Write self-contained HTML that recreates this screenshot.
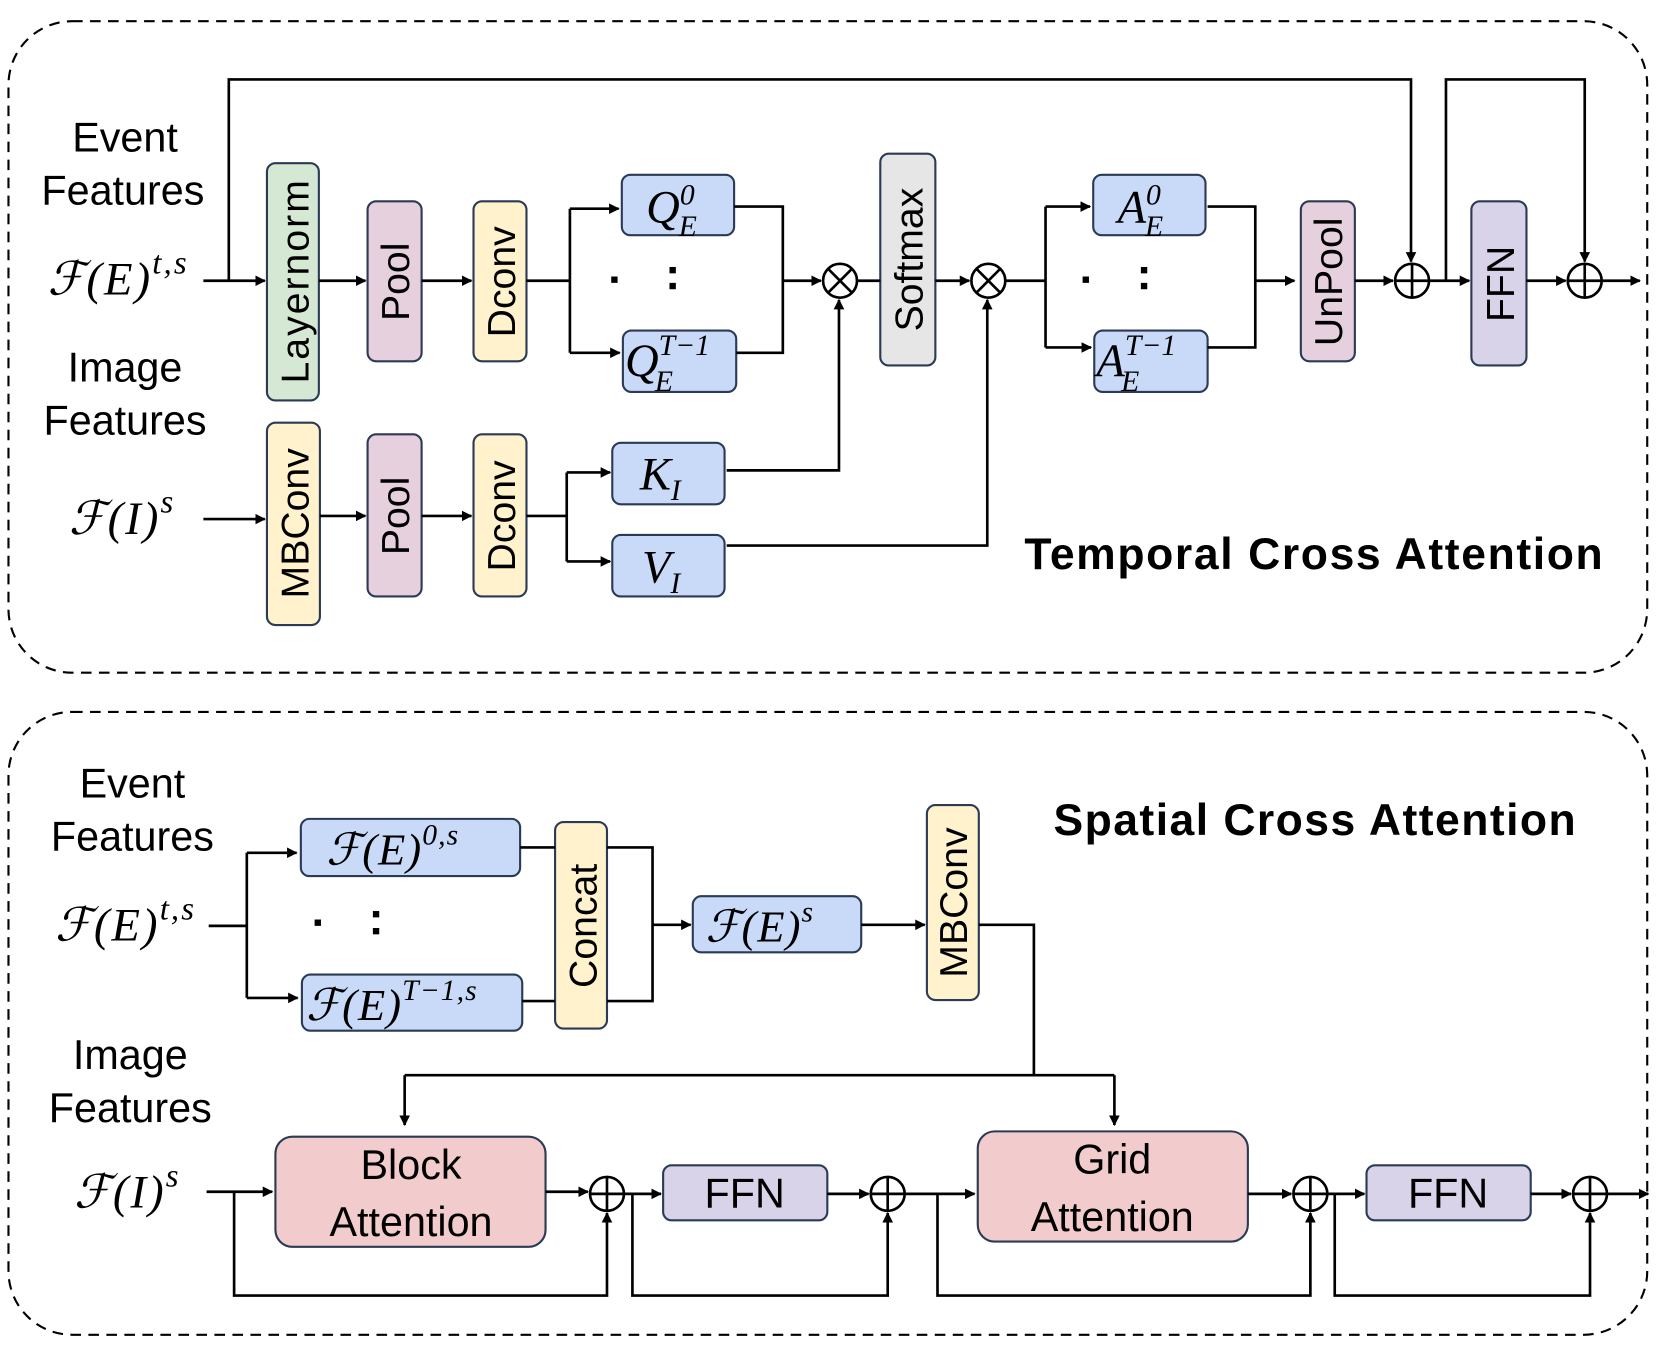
<!DOCTYPE html>
<html><head><meta charset="utf-8"><style>
html,body{margin:0;padding:0;background:#fff;}
svg{display:block;}
.s{font-family:"Liberation Sans",sans-serif;fill:#000;}
.m{font-family:"Liberation Serif","DejaVu Serif",serif;font-style:italic;fill:#000;}
.b{stroke:#2b3a55;stroke-width:2;}
</style></head><body>
<svg width="1661" height="1351" viewBox="0 0 1568 1275.3" xmlns="http://www.w3.org/2000/svg">
<defs><marker id="a" markerWidth="10" markerHeight="10" refX="9" refY="5" orient="auto" markerUnits="userSpaceOnUse"><path d="M0,0 L10,5 L0,10 z" fill="#000"/></marker></defs>
<g fill="none" stroke="#000" stroke-width="2" stroke-dasharray="10,7">
<rect x="8" y="20" width="1547" height="615" rx="60"/>
<rect x="8" y="672" width="1547" height="588" rx="60"/>
</g>
<!-- TOP -->
<g class="s" font-size="39" text-anchor="middle">
<text x="118" y="143">Event</text><text x="116" y="193">Features</text>
<text x="118" y="360">Image</text><text x="118" y="410">Features</text>
</g>
<text class="m" x="45" y="278" font-size="44" letter-spacing="2">ℱ(E)<tspan dy="-20" font-size="31">t,s</tspan></text>
<text class="m" x="65" y="504" font-size="44" letter-spacing="2">ℱ(I)<tspan dy="-20" font-size="31">s</tspan></text>
<g class="b">
<rect x="252" y="154" width="49" height="224" rx="8" fill="#d5e8d4"/>
<rect x="347" y="190" width="51" height="151" rx="8" fill="#e6d0de"/>
<rect x="447" y="190" width="50" height="151" rx="8" fill="#fff2cc"/>
<rect x="252" y="399" width="50" height="191" rx="8" fill="#fff2cc"/>
<rect x="347" y="410" width="51" height="153" rx="8" fill="#e6d0de"/>
<rect x="447" y="410" width="50" height="153" rx="8" fill="#fff2cc"/>
<rect x="587" y="165" width="106" height="57" rx="8" fill="#c9daf8"/>
<rect x="588" y="312" width="107" height="58" rx="8" fill="#c9daf8"/>
<rect x="578" y="418" width="106" height="58" rx="8" fill="#c9daf8"/>
<rect x="578" y="505" width="106" height="58" rx="8" fill="#c9daf8"/>
<rect x="831" y="145" width="52" height="200" rx="8" fill="#e6e6e6"/>
<rect x="1032" y="165" width="106" height="57" rx="8" fill="#c9daf8"/>
<rect x="1033" y="312" width="107" height="58" rx="8" fill="#c9daf8"/>
<rect x="1228" y="190" width="51" height="151" rx="8" fill="#e6d0de"/>
<rect x="1389" y="190" width="52" height="155" rx="8" fill="#d9d3ea"/>
</g>
<g class="s" font-size="37" text-anchor="middle">
<text transform="translate(291,266) rotate(-90)" textLength="192">Layernorm</text>
<text transform="translate(386,266) rotate(-90)">Pool</text>
<text transform="translate(486,266) rotate(-90)">Dconv</text>
<text transform="translate(291,494) rotate(-90)">MBConv</text>
<text transform="translate(386,487) rotate(-90)">Pool</text>
<text transform="translate(486,487) rotate(-90)">Dconv</text>
<text transform="translate(871,245) rotate(-90)">Softmax</text>
<text transform="translate(1267,266) rotate(-90)">UnPool</text>
<text transform="translate(1429,268) rotate(-90)">FFN</text>
</g>
<g class="m" font-size="44">
<text x="610" y="210">Q<tspan font-size="28" dy="-17">0</tspan><tspan font-size="28" dx="-15" dy="30">E</tspan></text>
<text x="590" y="355">Q<tspan font-size="28" dy="-20">T−1</tspan><tspan font-size="28" dx="-52" dy="34">E</tspan></text>
<text x="604" y="462">K<tspan font-size="28" dy="10">I</tspan></text>
<text x="606" y="550">V<tspan font-size="28" dy="10">I</tspan></text>
<text x="1055" y="210">A<tspan font-size="28" dy="-17">0</tspan><tspan font-size="28" dx="-15" dy="30">E</tspan></text>
<text x="1035" y="355">A<tspan font-size="28" dy="-20">T−1</tspan><tspan font-size="28" dx="-52" dy="34">E</tspan></text>
</g>
<g fill="#000"><rect x="577" y="261" width="6" height="6"/><rect x="632" y="252" width="6" height="6"/><rect x="632" y="267" width="6" height="6"/>
<rect x="1022" y="261" width="6" height="6"/><rect x="1077" y="252" width="6" height="6"/><rect x="1077" y="267" width="6" height="6"/></g>
<text class="s" x="1240" y="537" font-size="42" font-weight="bold" text-anchor="middle" textLength="546">Temporal Cross Attention</text>
<g fill="none" stroke="#000" stroke-width="2.5">
<path d="M192,265 H250" marker-end="url(#a)"/>
<path d="M216,265 V75 H1332 V247" marker-end="url(#a)"/>
<path d="M1365,265 V75 H1496 V247" marker-end="url(#a)"/>
<path d="M301,265 H345" marker-end="url(#a)"/><path d="M398,265 H445" marker-end="url(#a)"/>
<path d="M497,265 H538"/><path d="M538,197 V333"/>
<path d="M538,197 H584" marker-end="url(#a)"/><path d="M538,333 H585" marker-end="url(#a)"/>
<path d="M693,195 H739 V333 H695"/><path d="M739,265 H775" marker-end="url(#a)"/>
<path d="M192,490 H250" marker-end="url(#a)"/>
<path d="M302,487 H345" marker-end="url(#a)"/><path d="M398,487 H445" marker-end="url(#a)"/>
<path d="M497,487 H535"/><path d="M535,446 V530"/>
<path d="M535,446 H576" marker-end="url(#a)"/><path d="M535,530 H576" marker-end="url(#a)"/>
<path d="M686,444 H792 V283" marker-end="url(#a)"/>
<path d="M686,515 H932 V283" marker-end="url(#a)"/>
<path d="M809,265 H831"/><path d="M883,265 H915" marker-end="url(#a)"/>
<path d="M949,265 H987"/><path d="M987,195 V328"/>
<path d="M987,195 H1029" marker-end="url(#a)"/><path d="M987,328 H1030" marker-end="url(#a)"/>
<path d="M1140,195 H1185 V328 H1140"/><path d="M1185,265 H1222" marker-end="url(#a)"/>
<path d="M1279,265 H1315" marker-end="url(#a)"/><path d="M1349,265 H1387" marker-end="url(#a)"/>
<path d="M1441,265 H1478" marker-end="url(#a)"/><path d="M1512,265 H1548" marker-end="url(#a)"/>
<circle cx="793" cy="265" r="16"/><path d="M782,254 L804,276 M804,254 L782,276"/>
<circle cx="933" cy="265" r="16"/><path d="M922,254 L944,276 M944,254 L922,276"/>
<circle cx="1333" cy="265" r="16"/><path d="M1317,265 H1349 M1333,249 V281"/>
<circle cx="1496" cy="265" r="16"/><path d="M1480,265 H1512 M1496,249 V281"/>
</g>
<!-- BOTTOM -->
<g class="s" font-size="39" text-anchor="middle">
<text x="125" y="753">Event</text><text x="125" y="803">Features</text>
<text x="123" y="1009">Image</text><text x="123" y="1059">Features</text>
</g>
<text class="m" x="52" y="888" font-size="44" letter-spacing="2">ℱ(E)<tspan dy="-20" font-size="31">t,s</tspan></text>
<text class="m" x="70" y="1140" font-size="44" letter-spacing="2">ℱ(I)<tspan dy="-20" font-size="31">s</tspan></text>
<g class="b">
<rect x="284" y="773" width="207" height="54" rx="8" fill="#c9daf8"/>
<rect x="285" y="920" width="208" height="53" rx="8" fill="#c9daf8"/>
<rect x="524" y="776" width="49" height="195" rx="8" fill="#fff2cc"/>
<rect x="654" y="846" width="159" height="53" rx="8" fill="#c9daf8"/>
<rect x="875" y="760" width="49" height="184" rx="8" fill="#fff2cc"/>
<rect x="260" y="1073" width="255" height="104" rx="16" fill="#f2cccc"/>
<rect x="923" y="1068" width="255" height="104" rx="16" fill="#f2cccc"/>
<rect x="626" y="1100" width="155" height="52" rx="8" fill="#d9d3ea"/>
<rect x="1290" y="1100" width="155" height="52" rx="8" fill="#d9d3ea"/>
</g>
<g class="m" font-size="42" letter-spacing="1">
<text x="308" y="816">ℱ(E)<tspan font-size="28" dy="-19">0,s</tspan></text>
<text x="289" y="963">ℱ(E)<tspan font-size="28" dy="-19">T−1,s</tspan></text>
<text x="666" y="889">ℱ(E)<tspan font-size="28" dy="-19">s</tspan></text>
</g>
<g fill="#000"><rect x="297" y="868" width="6" height="6"/><rect x="352" y="860" width="6" height="6"/><rect x="352" y="876" width="6" height="6"/></g>
<g class="s" font-size="37" text-anchor="middle">
<text transform="translate(563,874) rotate(-90)">Concat</text>
<text transform="translate(913,852) rotate(-90)">MBConv</text>
</g>
<g class="s" font-size="39" text-anchor="middle">
<text x="388" y="1113">Block</text><text x="388" y="1167">Attention</text>
<text x="1050" y="1108">Grid</text><text x="1050" y="1162">Attention</text>
<text x="703" y="1140">FFN</text><text x="1367" y="1140">FFN</text>
</g>
<text class="s" x="1241" y="788" font-size="42" font-weight="bold" text-anchor="middle" textLength="493">Spatial Cross Attention</text>
<g fill="none" stroke="#000" stroke-width="2.5">
<path d="M197,874 H233"/><path d="M233,805 V942"/>
<path d="M233,805 H280" marker-end="url(#a)"/><path d="M233,942 H281" marker-end="url(#a)"/>
<path d="M491,800 H524"/><path d="M493,945 H524"/>
<path d="M573,800 H616 V945 H573"/><path d="M616,873 H652" marker-end="url(#a)"/>
<path d="M813,873 H873" marker-end="url(#a)"/>
<path d="M924,873 H976 V1015"/><path d="M382,1015 H1052"/>
<path d="M382,1015 V1062" marker-end="url(#a)"/><path d="M1052,1015 V1062" marker-end="url(#a)"/>
<path d="M195,1125 H257" marker-end="url(#a)"/>
<path d="M221,1125 V1223 H573 V1145" marker-end="url(#a)"/>
<path d="M515,1125 H555" marker-end="url(#a)"/>
<path d="M589,1127 H624" marker-end="url(#a)"/>
<path d="M597,1127 V1223 H838 V1145" marker-end="url(#a)"/>
<path d="M781,1127 H820" marker-end="url(#a)"/>
<path d="M854,1127 H920" marker-end="url(#a)"/>
<path d="M885,1127 V1223 H1237 V1145" marker-end="url(#a)"/>
<path d="M1178,1127 H1219" marker-end="url(#a)"/>
<path d="M1253,1127 H1288" marker-end="url(#a)"/>
<path d="M1260,1127 V1223 H1501 V1145" marker-end="url(#a)"/>
<path d="M1445,1127 H1483" marker-end="url(#a)"/>
<path d="M1517,1127 H1556" marker-end="url(#a)"/>
<circle cx="573" cy="1127" r="16"/><path d="M557,1127 H589 M573,1111 V1143"/>
<circle cx="838" cy="1127" r="16"/><path d="M822,1127 H854 M838,1111 V1143"/>
<circle cx="1237" cy="1127" r="16"/><path d="M1221,1127 H1253 M1237,1111 V1143"/>
<circle cx="1501" cy="1127" r="16"/><path d="M1485,1127 H1517 M1501,1111 V1143"/>
</g>
</svg>
</body></html>
